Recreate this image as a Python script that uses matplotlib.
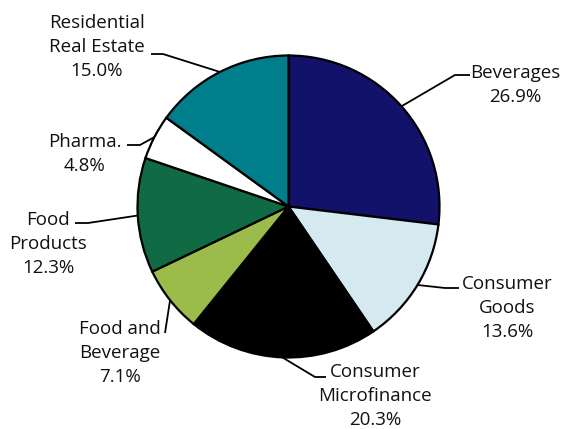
import numpy as np
import matplotlib.pyplot as plt

labels = ["Beverages", "Consumer\nGoods", "Consumer\nMicrofinance", "Food and\nBeverage",
          "Food\nProducts", "Pharma.", "Residential\nReal Estate"]
shares = [26.9, 13.6, 20.3, 7.1, 12.3, 4.8, 15.0]
colors = ["#12126a", "#d4e9f0", "#000000", "#9bbb4a", "#106b45", "#ffffff", "#007e8c"]

W, H = 561, 429
fig = plt.figure(figsize=(W / 100, H / 100), dpi=100)
ax = fig.add_axes([0, 0, 1, 1])

cx, cy, r = 288.5, H - 206.5, 151
wedges, _ = ax.pie(shares, colors=colors, startangle=90, counterclock=False,
                   center=(cx, cy), radius=r, frame=True,
                   wedgeprops=dict(edgecolor="black", linewidth=1.6))
ax.set_xlim(0, W)
ax.set_ylim(0, H)
ax.set_aspect("equal")
ax.axis("off")

# label layout in pixel coords (y from top): elbow, line end, text center
layout = [
    ((455, 75), (470, 75), (515, 85)),
    ((445, 288), (459, 288), (507, 308)),
    ((315, 377), (326, 377), (375, 396)),
    ((165, 333), (165, 333), (120, 353)),
    ((88, 223), (75, 223), (48, 244)),
    ((140, 145), (127, 145), (85, 154)),
    ((163, 54), (151, 54), (97, 47)),
]

for w, lab, pct, (elb, end, txt) in zip(wedges, labels, shares, layout):
    mid = np.deg2rad((w.theta1 + w.theta2) / 2)
    x0 = cx + r * np.cos(mid)
    y0 = cy + r * np.sin(mid)
    ax.plot([x0, elb[0], end[0]], [y0, H - elb[1], H - end[1]],
            color="black", lw=1.3, solid_capstyle="butt")
    ax.text(txt[0], H - txt[1], f"{lab}\n{pct:.1f}%", ha="center", va="center",
            multialignment="center", fontsize=13.5, family="Open Sans",
            linespacing=1.45, color="#111111")

fig.savefig("out.png", dpi=100)
